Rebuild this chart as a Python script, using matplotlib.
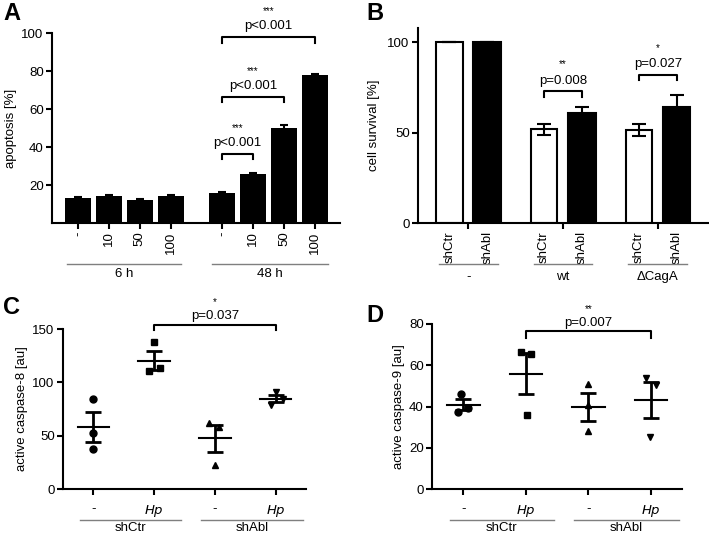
import numpy as np
import matplotlib.pyplot as plt
from matplotlib import transforms

plt.rcParams['font.family'] = ['Liberation Sans', 'DejaVu Sans']
plt.rcParams['font.size'] = 9

# ---- panel A: apoptosis ----
a_doses = ['-', '10', '50', '100']
a_groups = ['6 h', '48 h']
a_values = [13.2, 14.2, 12.3, 14.0, 16.0, 25.9, 50.2, 78.0]
a_err = [0.5, 0.5, 0.5, 0.5, 0.5, 0.5, 1.2, 0.5]
a_sig = [('***', 'p<0.001', 4, 5, 36.5), ('***', 'p<0.001', 4, 6, 66.5), ('***', 'p<0.001', 4, 7, 98)]

# ---- panel B: cell survival ----
b_strains = ['-', 'wt', '\u0394CagA']
b_shrna = ['shCtr', 'shAbl']
b_ctr = [100, 52, 51.5]
b_ctr_err = [0, 3, 3.5]
b_abl = [100, 61, 64.5]
b_abl_err = [0, 3, 6.5]
b_sig = [('**', 'p=0.008', 1, 73), ('*', 'p=0.027', 2, 82)]

# ---- panels C / D: caspase ----
cd_cond = ['-', '$\\mathit{Hp}$', '-', '$\\mathit{Hp}$']
cd_groups = ['shCtr', 'shAbl']
c_points = [[84.2, 52.9, 37.3], [137.5, 110.2, 113.4], [22.5, 62.3, 58.0], [90.5, 78.9, 84.6]]
c_jit = [[0, 0, 0], [0, -0.08, 0.09], [0, -0.09, 0.07], [0.0, -0.08, 0.12]]
d_points = [[46.0, 37.2, 39.2], [66.4, 65.4, 36.0], [50.8, 40.8, 27.9], [53.8, 50.2, 25.4]]
d_jit = [[-0.03, -0.09, 0.08], [-0.08, 0.09, 0.02], [0, 0, 0], [-0.08, 0.08, -0.02]]
markers = ['o', 's', '^', 'v']

W, H = 709, 534
fig = plt.figure(figsize=(W / 100, H / 100), dpi=100)


def add_ax(l, t, r, b):
    return fig.add_axes([l / W, 1 - b / H, (r - l) / W, (b - t) / H])


def fy(px):
    return 1 - px / H


def style(ax):
    for s in ['top', 'right']:
        ax.spines[s].set_visible(False)
    for s in ['left', 'bottom']:
        ax.spines[s].set_linewidth(1.5)
    ax.tick_params(width=1.5, length=4, labelsize=9.5, pad=2)


def group_line(ax, x0, x1, ypx, label, ybase):
    # gray line under a group of ticks, label placed by its baseline
    tr = transforms.blended_transform_factory(ax.transData, fig.transFigure)
    ax.plot([x0, x1], [fy(ypx), fy(ypx)], color='#7f7f7f', lw=1, transform=tr, clip_on=False)
    ax.text((x0 + x1) / 2, fy(ybase), label, transform=tr, ha='center', va='baseline', fontsize=9.5)


def bracket(ax, x0, x1, y, leg, stars, ptxt, dy_p, dy_s, star_fs=7):
    ax.plot([x0, x0, x1, x1], [y - leg, y, y, y - leg], color='black', lw=1.5, clip_on=False)
    ax.text((x0 + x1) / 2, y + dy_p, ptxt, ha='center', va='bottom', fontsize=9.5)
    ax.text((x0 + x1) / 2, y + dy_s, stars, ha='center', va='bottom', fontsize=star_fs)


# ---------------- A ----------------
axA = add_ax(52, 33, 340, 223)
style(axA)
a_x = np.array([0, 1, 2, 3, 4.68, 5.68, 6.68, 7.68])
axA.bar(a_x, a_values, width=0.84, color='black', yerr=a_err,
        error_kw=dict(ecolor='black', elinewidth=1.5, capsize=3, capthick=1.5))
axA.set_xlim(-0.85, 8.5)
axA.set_ylim(0, 100)
axA.set_yticks([20, 40, 60, 80, 100])
axA.set_xticks(a_x)
axA.set_xticklabels(a_doses * 2, rotation=90, va='top')
axA.set_ylabel('apoptosis [%]', fontsize=9.5, labelpad=3)
for stars, ptxt, i0, i1, y in a_sig:
    bracket(axA, a_x[i0], a_x[i1], y, 3, stars, ptxt, 2.5, 11)
group_line(axA, -0.35, 3.35, 264, a_groups[0], 277)
group_line(axA, 4.33, 8.1, 264, a_groups[1], 277)
fig.text(3 / W, fy(13), 'A', fontsize=17, fontweight='bold', va='center')

# ---------------- B ----------------
axB = add_ax(418, 28, 708, 223)
style(axB)
gx = np.arange(3)
off = 0.2
axB.bar(gx - off, b_ctr, width=0.28, color='white', edgecolor='black', linewidth=1.5,
        yerr=b_ctr_err, error_kw=dict(ecolor='black', elinewidth=1.5, capsize=5, capthick=1.5))
axB.bar(gx + off, b_abl, width=0.29, color='black', edgecolor='black', linewidth=1.5,
        yerr=b_abl_err, error_kw=dict(ecolor='black', elinewidth=1.5, capsize=5, capthick=1.5))
axB.set_xlim(-0.53, 2.53)
axB.set_ylim(0, 108)
axB.set_yticks([0, 50, 100])
axB.set_xticks(gx)
axB.set_xticklabels([])
axB.set_xticks(np.sort(np.concatenate([gx - off, gx + off])), minor=True)
axB.set_xticklabels(b_shrna * 3, minor=True, rotation=90, va='top')
axB.tick_params(axis='x', which='minor', length=0, pad=6, labelsize=9.5)
axB.set_ylabel('cell survival [%]', fontsize=9.5, labelpad=5)
for stars, ptxt, g, y in b_sig:
    bracket(axB, g - off, g + off, y, 3, stars, ptxt, 2.5, 12)
for g, name in zip(gx, b_strains):
    group_line(axB, g - 0.31, g + 0.31, 264, name, 280)
fig.text(366 / W, fy(13), 'B', fontsize=17, fontweight='bold', va='center')


# ---------------- C / D ----------------
def scatter_panel(ax, pts, jit, ylim, yticks, ylabel, sig):
    style(ax)
    for i, (p, j) in enumerate(zip(pts, jit)):
        p = np.array(p)
        ax.plot(i + np.array(j), p, linestyle='none', marker=markers[i], color='black', markersize=5)
        m = p.mean()
        sem = p.std(ddof=1) / np.sqrt(len(p))
        ax.plot([i - 0.26, i + 0.26], [m, m], color='black', lw=1.5)
        ax.errorbar(i, m, yerr=sem, color='black', elinewidth=2, capsize=5.5, capthick=2)
    ax.set_xlim(-0.5, 3.5)
    ax.set_ylim(*ylim)
    ax.set_yticks(yticks)
    ax.set_xticks(range(4))
    ax.set_xticklabels(cd_cond)
    ax.tick_params(axis='x', labelsize=9.5, pad=6)
    ax.set_ylabel(ylabel, fontsize=9.5, labelpad=3)
    stars, ptxt, y, leg, dp, ds = sig
    bracket(ax, 1, 3, y, leg, stars, ptxt, dp, ds)
    group_line(ax, -0.22, 1.45, 520, cd_groups[0], 531)
    group_line(ax, 1.77, 3.45, 520, cd_groups[1], 531)


axC = add_ax(63, 329, 306, 489)
scatter_panel(axC, c_points, c_jit, (0, 150), [0, 50, 100, 150], 'active caspase-8 [au]',
              ('*', 'p=0.037', 154, 5, 2.5, 17))
fig.text(3 / W, fy(308), 'C', fontsize=17, fontweight='bold', va='center')

axD = add_ax(432, 324, 682, 489)
scatter_panel(axD, d_points, d_jit, (0, 80), [0, 20, 40, 60, 80], 'active caspase-9 [au]',
              ('**', 'p=0.007', 76.4, 3, 1.2, 8.5))
fig.text(366 / W, fy(315), 'D', fontsize=17, fontweight='bold', va='center')

fig.savefig('out.png', dpi=100)
